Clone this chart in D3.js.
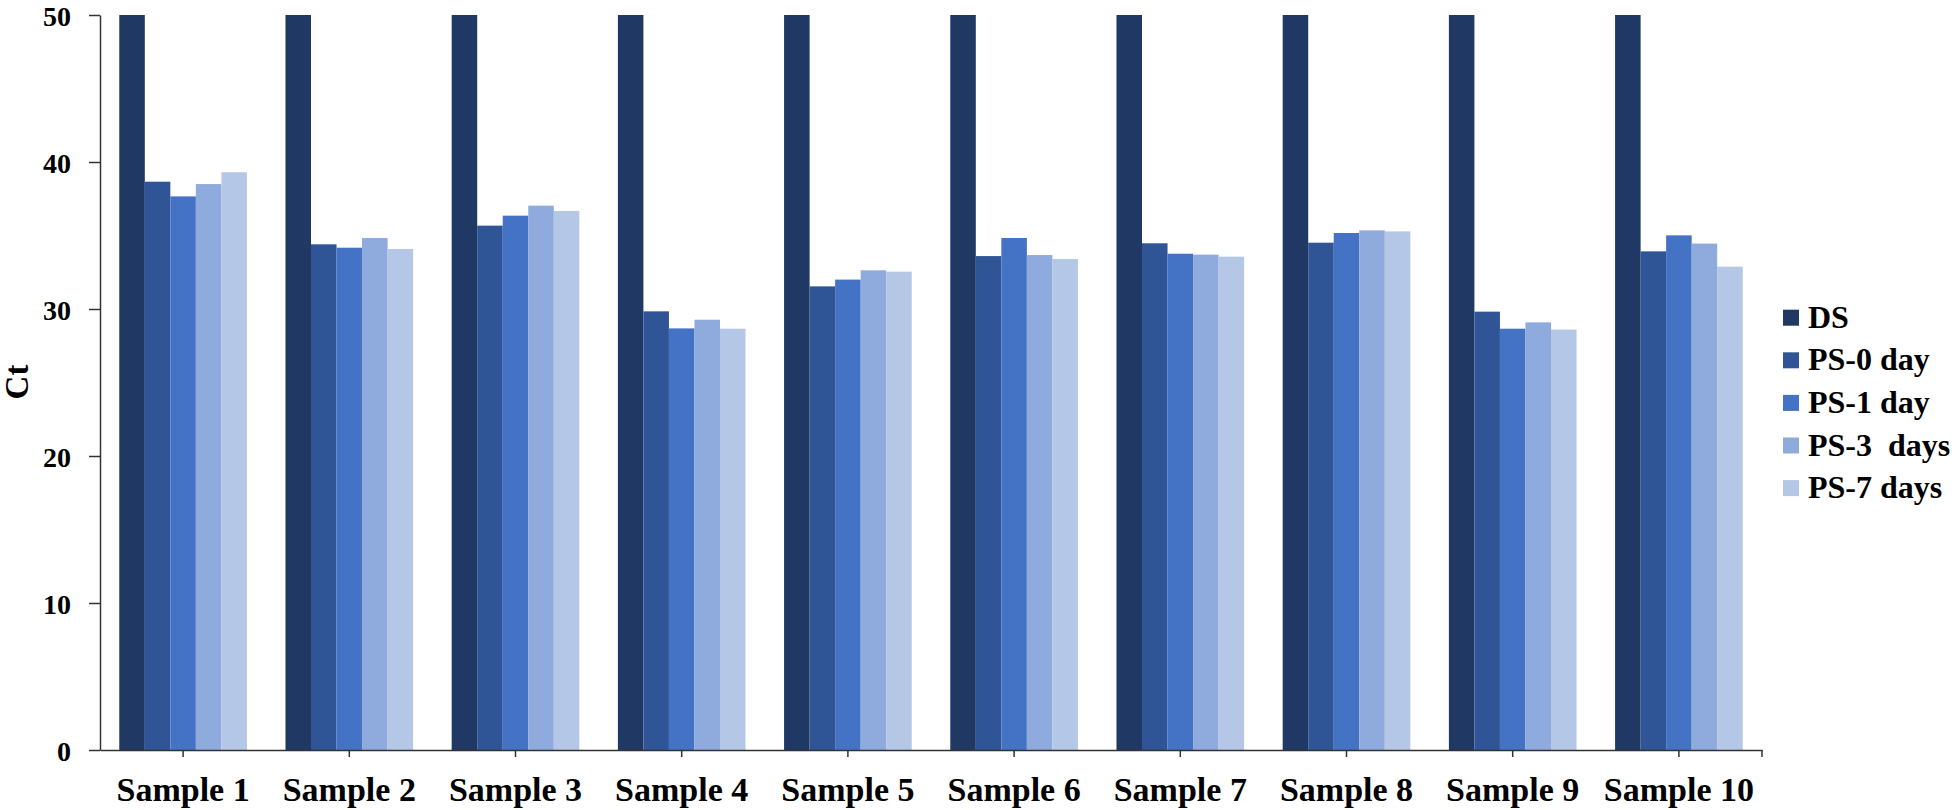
<!DOCTYPE html>
<html>
<head>
<meta charset="utf-8">
<script src="https://cdn.jsdelivr.net/npm/d3@7"></script>
<style>
  body { margin: 0; background: #fff; }
</style>
</head>
<body>
<svg width="1958" height="810"></svg>
<script>
const samples = ["Sample 1", "Sample 2", "Sample 3", "Sample 4", "Sample 5",
                 "Sample 6", "Sample 7", "Sample 8", "Sample 9", "Sample 10"];
const series = ["DS", "PS-0 day", "PS-1 day", "PS-3  days", "PS-7 days"];
const colors = ["#203864", "#2f5597", "#4472c4", "#8faadc", "#b4c7e7"];

const ds   = [50, 50, 50, 50, 50, 50, 50, 50, 50, 50];
const ps0  = [38.66, 34.4, 35.67, 29.84, 31.54, 33.6, 34.47, 34.51, 29.82, 33.92];
const ps1  = [37.66, 34.17, 36.35, 28.68, 32.0, 34.83, 33.76, 35.17, 28.66, 35.01];
const ps3  = [38.5, 34.83, 37.03, 29.27, 32.63, 33.67, 33.7, 35.35, 29.09, 34.45];
const ps7  = [39.3, 34.08, 36.67, 28.66, 32.54, 33.4, 33.56, 35.28, 28.6, 32.88];
const yTicks = [0, 10, 20, 30, 40, 50];

const FONT = "'Liberation Serif', 'Times New Roman', 'DejaVu Serif', serif";

const values = [ds, ps0, ps1, ps3, ps7];
const data = samples.map((s, i) => ({
    sample: s,
    vals: series.map((k, j) => ({ key: k, value: values[j][i], color: colors[j] }))
}));

const svg = d3.select("svg");

const x0 = d3.scaleBand()
    .domain(samples)
    .range([100, 1762])
    .paddingInner(0.232)
    .paddingOuter(0.116);

const x1 = d3.scaleBand()
    .domain(series)
    .range([0, x0.bandwidth()]);

const y = d3.scaleLinear()
    .domain([0, 50])
    .range([750, 15]);

// bars
svg.append("g")
    .selectAll("g")
    .data(data)
    .join("g")
    .attr("transform", d => `translate(${x0(d.sample)},0)`)
    .selectAll("rect")
    .data(d => d.vals)
    .join("rect")
    .attr("x", d => x1(d.key))
    .attr("y", d => y(d.value))
    .attr("width", x1.bandwidth())
    .attr("height", d => y(0) - y(d.value))
    .attr("fill", d => d.color);

// y axis
const yAxis = svg.append("g")
    .attr("transform", "translate(100,0)")
    .call(d3.axisLeft(y).tickValues(yTicks).tickSize(11).tickPadding(18).tickSizeOuter(0));
yAxis.attr("font-family", FONT);
yAxis.selectAll("text")
    .style("font-family", FONT).style("font-weight", "bold").style("font-size", "28px")
    .attr("dy", "0.38em");

// x axis
const xAxis = svg.append("g")
    .attr("transform", "translate(0,750)")
    .call(d3.axisBottom(x0).tickSize(7).tickSizeOuter(0));
xAxis.attr("font-family", FONT);
xAxis.selectAll("text")
    .style("font-family", FONT).style("font-weight", "bold").style("font-size", "34px")
    .attr("y", 51).attr("dy", 0);
xAxis.append("line")
    .attr("class", "end-tick")
    .attr("x1", x0.range()[1]).attr("x2", x0.range()[1])
    .attr("y1", 0).attr("y2", 7);

svg.selectAll(".domain, .tick line, .end-tick").attr("stroke", "#333").attr("stroke-width", 1.5);

// y label
svg.append("text")
    .attr("transform", "translate(28,382) rotate(-90)")
    .style("text-anchor", "middle")
    .style("font-family", FONT).style("font-weight", "bold").style("font-size", "33px")
    .text("Ct");

// legend
const legend = svg.append("g")
    .selectAll("g")
    .data(series)
    .join("g")
    .attr("transform", (d, i) => `translate(1783,${317.7 + i * 42.6})`);

legend.append("rect")
    .attr("x", 0).attr("y", -8)
    .attr("width", 16).attr("height", 16)
    .attr("fill", (d, i) => colors[i]);

legend.append("text")
    .attr("x", 25)
    .attr("y", 10)
    .style("font-family", FONT).style("font-weight", "bold").style("font-size", "32px")
    .style("white-space", "pre")
    .text(d => d);
</script>
</body>
</html>
